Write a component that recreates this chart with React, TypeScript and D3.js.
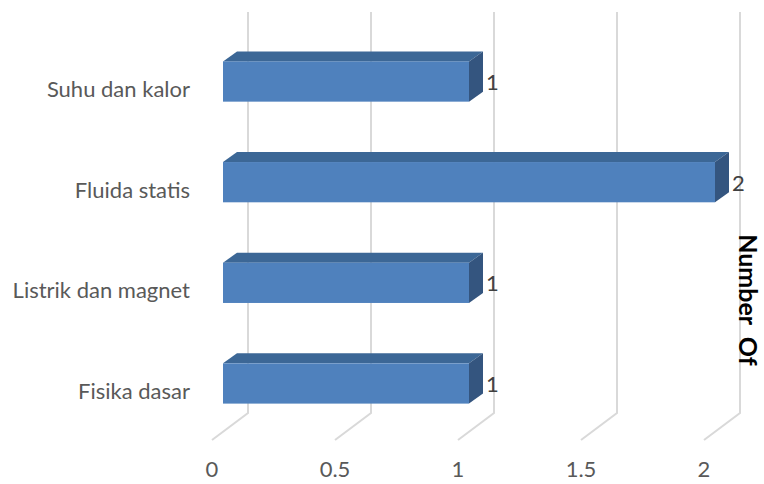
import React, { useEffect, useRef } from 'react';
import * as d3 from 'd3';

const categories = ['Suhu dan kalor', 'Fluida statis', 'Listrik dan magnet', 'Fisika dasar'];
const values = [1, 2, 1, 1];
const xTicks = [0, 0.5, 1, 1.5, 2];
const axisTitle = 'Number  Of';

const WIDTH = 764;
const HEIGHT = 484;

// oblique depth offsets
const BAR_DX = 14;
const BAR_DY = -10;
const BACK_DX = 25;
const FLOOR_DX = -11;
const FLOOR_BACK_Y = 413;
const FLOOR_FRONT_Y = 440;
const GRID_TOP = 12;

const FRONT = '#4f81bd';
const TOP = '#3c6796';
const SIDE = '#34557f';
const FONT = 'Lato, "Liberation Sans", sans-serif';

export default function App() {
  const svgRef = useRef<SVGSVGElement>(null);

  useEffect(() => {
    if (!svgRef.current) return;
    const svg = d3.select(svgRef.current);
    svg.selectAll('*').remove();

    const x = d3.scaleLinear().domain([0, 2]).range([223, 715]);
    const y = d3.scaleBand<string>().domain(categories).range([1, 464]).padding(0.6);

    // gridlines: back wall vertical + floor diagonal
    const grid = svg.append('g').attr('class', 'grid');
    xTicks.forEach(t => {
      const bx = x(t) + BACK_DX;
      const fx = x(t) + FLOOR_DX;
      grid.append('path')
        .attr('d', `M${bx},${GRID_TOP}L${bx},${FLOOR_BACK_Y}L${fx},${FLOOR_FRONT_Y}`)
        .attr('fill', 'none')
        .attr('stroke', '#d9d9d9')
        .attr('stroke-width', 2);
    });

    // bars
    const bars = svg.append('g').selectAll('g.bar')
      .data(categories.map((c, i) => ({ label: c, value: values[i] })))
      .enter()
      .append('g')
      .attr('class', 'bar');

    bars.each(function (d) {
      const g = d3.select(this);
      const x0 = x(0);
      const x1 = x(d.value);
      const y0 = y(d.label) || 0;
      const h = y.bandwidth();
      g.append('path')
        .attr('d', `M${x0},${y0}L${x0 + BAR_DX},${y0 + BAR_DY}L${x1 + BAR_DX},${y0 + BAR_DY}L${x1},${y0}Z`)
        .attr('fill', TOP);
      g.append('path')
        .attr('d', `M${x1},${y0}L${x1 + BAR_DX},${y0 + BAR_DY}L${x1 + BAR_DX},${y0 + h + BAR_DY}L${x1},${y0 + h}Z`)
        .attr('fill', SIDE);
      g.append('rect')
        .attr('x', x0)
        .attr('y', y0)
        .attr('width', x1 - x0)
        .attr('height', h)
        .attr('fill', FRONT);
      g.append('text')
        .attr('x', x1 + BAR_DX + 3)
        .attr('y', y0 + h / 2 + 3)
        .attr('dominant-baseline', 'middle')
        .attr('font-family', FONT)
        .attr('font-size', 22)
        .attr('fill', '#404040')
        .text(d.value);
    });

    // category labels
    svg.append('g').selectAll('text')
      .data(categories)
      .enter()
      .append('text')
      .attr('x', 190)
      .attr('y', d => (y(d) || 0) + y.bandwidth() / 2 + 10)
      .attr('text-anchor', 'end')
      .attr('dominant-baseline', 'middle')
      .attr('font-family', FONT)
      .attr('font-size', 22)
      .attr('fill', '#595959')
      .text(d => d);

    // value axis labels on the floor front edge
    svg.append('g').selectAll('text')
      .data(xTicks)
      .enter()
      .append('text')
      .attr('x', d => x(d) + FLOOR_DX)
      .attr('y', 471)
      .attr('text-anchor', 'middle')
      .attr('dominant-baseline', 'middle')
      .attr('font-family', FONT)
      .attr('font-size', 22)
      .attr('fill', '#595959')
      .text(d => String(d));

    // rotated axis title
    svg.append('text')
      .attr('transform', 'translate(739,300) rotate(90)')
      .attr('text-anchor', 'middle')
      .attr('font-family', FONT)
      .attr('font-size', 25)
      .attr('font-weight', 'bold')
      .attr('fill', '#000')
      .attr('xml:space', 'preserve')
      .text(axisTitle);
  }, []);

  return (
    <svg
      ref={svgRef}
      width={WIDTH}
      height={HEIGHT}
      style={{ position: 'absolute', left: 0, top: 0, background: '#fff' }}
    />
  );
}
